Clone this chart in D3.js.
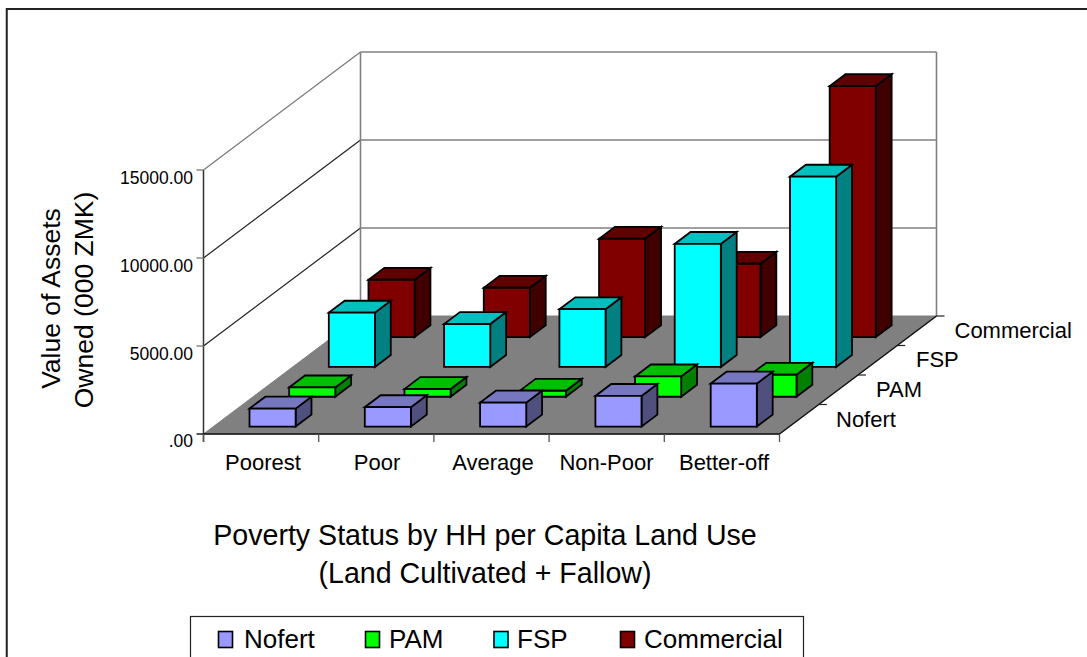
<!DOCTYPE html>
<html><head><meta charset="utf-8">
<script src="https://cdn.jsdelivr.net/npm/d3@7/dist/d3.min.js"></script>
<style>html,body{margin:0;padding:0;background:#fff;overflow:hidden}svg{display:block}text{font-family:"Liberation Sans",Arial,sans-serif;fill:#000}</style>
</head><body><svg id="c" width="1087" height="657"></svg>
<script>
const categories = ["Poorest","Poor","Average","Non-Poor","Better-off"];
const seriesNames = ["Nofert","PAM","FSP","Commercial"];
const nofert = [1020,1100,1360,1740,2440];
const pam = [530,440,340,1155,1250];
const fsp = [3085,2440,3280,6990,10810];
const commercial = [3260,2805,5590,4170,14260];
const valueTicks = [0,5000,10000,15000];
const tickLabels = [".00","5000.00","10000.00","15000.00"];
const fills = {Nofert:["#9999ff","#7777bf","#50507f"],PAM:["#00ff00","#00bf00","#007f00"],FSP:["#00ffff","#00bfbf","#008080"],Commercial:["#800000","#600000","#400000"]};
const values = {Nofert:nofert,PAM:pam,FSP:fsp,Commercial:commercial};

const svg = d3.select("#c");
const x0=203.5,y0=434,W=576,DX=157,DY=118;
const xScale = d3.scaleBand().domain(categories).range([1.5,578]).paddingInner(0.6).paddingOuter(0.3);
const xEdge = d3.scaleLinear().domain([0,categories.length]).range([0,W]);
const zScale = d3.scaleBand().domain(seriesNames).range([0,0.985]).paddingInner(0.6).paddingOuter(0.25);
const zEdge = d3.scaleLinear().domain([0,seriesNames.length]).range([0,1]);
const yScale = d3.scaleLinear().domain([0,15000]).range([0,264]);
const P=(x,z,v)=>[x0+x+DX*z, y0-DY*z-yScale(v)];
const pth=pts=>"M"+pts.map(p=>p.map(n=>n.toFixed(2)).join(",")).join("L")+"Z";

// frame (the right and bottom edges lie outside the picture)
svg.append("path").attr("d","M6.75,657V9H1087").attr("fill","none").attr("stroke","#222").attr("stroke-width",2);
const wall=svg.append("g");
wall.append("path").attr("d",pth([P(0,0,0),P(W,0,0),P(W,1,0),P(0,1,0)])).attr("fill","#808080").attr("stroke","#808080");
wall.selectAll("line.h").data(valueTicks.slice(1)).join("line")
 .attr("x1",P(0,1,0)[0]).attr("x2",P(W,1,0)[0]).attr("y1",d=>P(0,1,d)[1]).attr("y2",d=>P(0,1,d)[1]).attr("stroke","#808080").attr("stroke-width",1.6);
wall.selectAll("line.d").data(valueTicks.slice(1)).join("line")
 .attr("x1",d=>P(0,0,d)[0]).attr("y1",d=>P(0,0,d)[1]).attr("x2",d=>P(0,1,d)[0]).attr("y2",d=>P(0,1,d)[1]).attr("stroke",(d,i)=>i==2?"#777":"#222").attr("stroke-width",1.2);
wall.append("path").attr("d",`M${P(0,1,0)}L${P(0,1,15000)}`).attr("stroke","#808080").attr("stroke-width",1.6);
wall.append("path").attr("d",`M${P(W,1,0)}L${P(W,1,15000)}`).attr("stroke","#808080").attr("stroke-width",1.6);

// y axis
const ya=svg.append("g");
ya.append("line").attr("x1",x0).attr("x2",x0).attr("y1",y0+8).attr("y2",P(0,0,15000)[1]).attr("stroke","#333").attr("stroke-width",1.5);
ya.selectAll("line.t").data(valueTicks).join("line").attr("x1",x0-7).attr("x2",x0).attr("y1",d=>P(0,0,d)[1]).attr("y2",d=>P(0,0,d)[1]).attr("stroke",(d,i)=>i==0?"#111":"#808080").attr("stroke-width",1.4);
ya.selectAll("text").data(valueTicks).join("text").attr("x",193).attr("y",d=>P(0,0,d)[1]+(d==0?13:14)).attr("text-anchor","end").attr("font-size",17.5).text((d,i)=>tickLabels[i]);

// x axis
const xa=svg.append("g");
xa.append("line").attr("x1",x0).attr("x2",x0+W).attr("y1",y0).attr("y2",y0).attr("stroke","#111").attr("stroke-width",1.5);
xa.selectAll("line.t").data(d3.range(categories.length+1)).join("line").attr("class","t").attr("x1",d=>x0+xEdge(d)).attr("x2",d=>x0+xEdge(d)).attr("y1",y0).attr("y2",y0+8).attr("stroke","#555").attr("stroke-width",1.3);
xa.selectAll("text").data(categories).join("text").attr("x",(d,i)=>[263,377,493,606.5,724][i]).attr("y",470).attr("text-anchor","middle").attr("font-size",22).text(d=>d);

// depth axis
const za=svg.append("g");
za.append("path").attr("d",`M${P(W,0,0)}L${P(W,1,0)}`).attr("stroke","#111").attr("stroke-width",1.5);
za.selectAll("line").data(d3.range(1,seriesNames.length+1)).join("line").attr("x1",d=>P(W,zEdge(d),0)[0]).attr("y1",d=>P(W,zEdge(d),0)[1]).attr("x2",d=>P(W,zEdge(d),0)[0]+8).attr("y2",d=>P(W,zEdge(d),0)[1]).attr("stroke","#222").attr("stroke-width",1.2);
za.selectAll("text").data(seriesNames).join("text").attr("x",(d,i)=>[836,876,916,954.5][i]).attr("y",(d,i)=>[427,397,367,338][i]).attr("font-size",22).text(d=>d);

// bars, back to front
const bars=svg.append("g");
[...seriesNames].reverse().forEach(s=>{
  const b=zScale.bandwidth();
  categories.forEach((c,i)=>{
    const v=values[s][i],xl=xScale(c),xr=xl+xScale.bandwidth(),zf=zScale(s),zb=zf+b;
    const g=bars.append("g").attr("stroke","#000").attr("stroke-width",1.8).attr("stroke-linejoin","miter");
    g.append("path").attr("d",pth([P(xr,zf,0),P(xr,zb,0),P(xr,zb,v),P(xr,zf,v)])).attr("fill",fills[s][2]);
    g.append("path").attr("d",pth([P(xl,zf,v),P(xr,zf,v),P(xr,zb,v),P(xl,zb,v)])).attr("fill",fills[s][1]);
    g.append("path").attr("d",pth([P(xl,zf,0),P(xr,zf,0),P(xr,zf,v),P(xl,zf,v)])).attr("fill",fills[s][0]);
  });
});

// titles
svg.append("text").attr("transform","translate(60,298.5)rotate(-90)").attr("text-anchor","middle").attr("font-size",26.5).text("Value of Assets");
svg.append("text").attr("transform","translate(93,300)rotate(-90)").attr("text-anchor","middle").attr("font-size",26.5).text("Owned (000 ZMK)");
svg.append("text").attr("x",485).attr("y",545).attr("text-anchor","middle").attr("font-size",28.6).text("Poverty Status by HH per Capita Land Use");
svg.append("text").attr("x",485).attr("y",583).attr("text-anchor","middle").attr("font-size",28.6).text("(Land Cultivated + Fallow)");

// legend
const lg=svg.append("g");
lg.append("rect").attr("x",190.5).attr("y",616.5).attr("width",613).attr("height",60).attr("fill","#fff").attr("stroke","#222").attr("stroke-width",1.2);
const sw=[218.5,365.5,494,620.5],tx=[244,389,517,644];
seriesNames.forEach((s,i)=>{
  lg.append("rect").attr("x",sw[i]).attr("y",631.5).attr("width",14).attr("height",16).attr("fill",fills[s][0]).attr("stroke","#000").attr("stroke-width",1.6);
  lg.append("text").attr("x",tx[i]).attr("y",648).attr("font-size",26).text(s);
});
</script></body></html>
